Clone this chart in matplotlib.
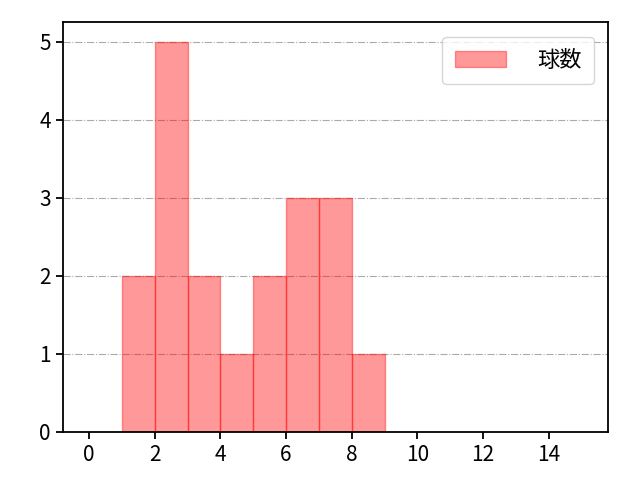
import matplotlib
matplotlib.use("Agg")
from matplotlib import pyplot as plt

plt.rcParams['font.family'] = ['Noto Sans CJK JP', 'DejaVu Sans']

# histogram of pitch counts (bin width 1)
bin_left = [1, 2, 3, 4, 5, 6, 7, 8]
counts = [2, 5, 2, 1, 2, 3, 3, 1]
x_ticks = [0, 2, 4, 6, 8, 10, 12, 14]
label = "球数"

fig, ax = plt.subplots(figsize=(6.4, 4.8), dpi=100)
fig.subplots_adjust(left=0.098, right=0.95, top=0.954, bottom=0.1)
ax.bar(bin_left, counts, width=1, align='edge', color='red', alpha=0.4,
       edgecolor='red', linewidth=1, label=label)
ax.set_xlim(-0.8, 15.8)
ax.set_ylim(0, 5.25)
ax.set_xticks(x_ticks)
ax.tick_params(labelsize=15, width=1.3, length=5)
for s in ax.spines.values():
    s.set_linewidth(1.3)
ax.grid(axis='y', linestyle='-.', color='#aaaaaa')
ax.set_axisbelow(True)
ax.legend(loc='upper right', fontsize=16, handlelength=2.3, handletextpad=1.4,
          borderpad=0.55, borderaxespad=0.65)
fig.savefig("out.png")
